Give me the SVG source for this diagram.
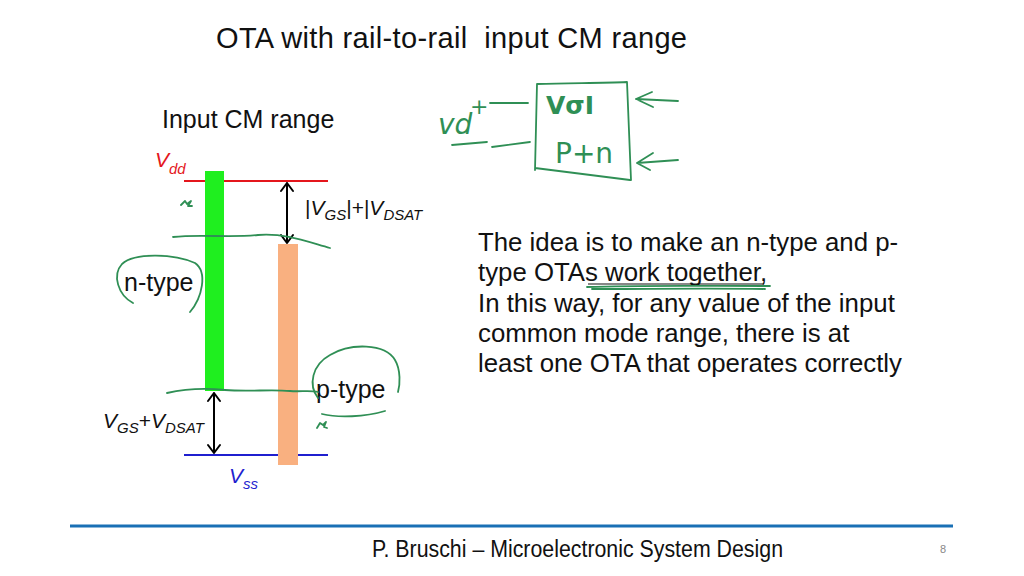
<svg xmlns="http://www.w3.org/2000/svg" width="1024" height="576" viewBox="0 0 1024 576">
<style>
text{font-family:"Liberation Sans",Arial,sans-serif;fill:#111}
.it{font-style:italic}
.hw{fill:none;stroke:#2f8f55;stroke-width:1.8;stroke-linecap:round;stroke-linejoin:round}
.hwt{fill:#2f8f55;font-family:"DejaVu Sans",sans-serif}
.arr{fill:none;stroke:#000;stroke-width:2;stroke-linecap:round;stroke-linejoin:round}
</style>
<rect width="1024" height="576" fill="#fff"/>
<text x="216" y="48" font-size="29" textLength="471" xml:space="preserve" style="white-space:pre">OTA with rail-to-rail  input CM range</text>
<text x="162" y="128" font-size="25">Input CM range</text>

<g id="vdd">
<line x1="184" y1="181" x2="328" y2="181" stroke="#e4161c" stroke-width="2"/>
<text x="155" y="167" font-size="21" class="it" style="fill:#e4161c">V<tspan font-size="15" dy="7">dd</tspan></text>
</g>
<g id="vss">
<line x1="184" y1="455" x2="328" y2="455" stroke="#1f1fcf" stroke-width="2"/>
<text x="229" y="483" font-size="21" class="it" style="fill:#1f1fcf">V<tspan font-size="15" dy="6">ss</tspan></text>
</g>
<g id="n-bar"><rect x="205" y="171" width="19" height="220" fill="#1fef1f"/></g>
<g id="p-bar"><rect x="278" y="244" width="20" height="221" fill="#f9b080"/></g>

<g id="connectors">
<path class="arr" d="M287,183 V243 M281,191 L287,183 L293,191 M281,235 L287,243 L293,235"/>
<path class="arr" d="M214,393 V453 M208,401 L214,393 L220,401 M208,445 L214,453 L220,445"/>
</g>

<g id="label-top">
<text x="305" y="215" font-size="21">|<tspan class="it">V</tspan><tspan class="it" font-size="15" dy="5">GS</tspan><tspan dy="-5">|+|</tspan><tspan class="it">V</tspan><tspan class="it" font-size="15" dy="5">DSAT</tspan></text>
</g>
<g id="label-bottom">
<text x="103" y="428" font-size="21"><tspan class="it">V</tspan><tspan class="it" font-size="15" dy="5">GS</tspan><tspan dy="-5">+</tspan><tspan class="it">V</tspan><tspan class="it" font-size="15" dy="5">DSAT</tspan></text>
</g>
<g id="n-type"><text x="124" y="291" font-size="25">n-type</text></g>
<g id="p-type"><text x="316" y="398" font-size="25">p-type</text></g>

<g id="paragraph">
<text x="478" y="251" font-size="25.8">The idea is to make an n-type and p-</text>
<text x="478" y="281" font-size="25.8">type OTAs work together,</text>
<line x1="588" y1="284" x2="764" y2="284" stroke="#111" stroke-width="1.2"/>
<text x="478" y="312" font-size="25.8">In this way, for any value of the input</text>
<text x="478" y="342" font-size="25.8">common mode range, there is at</text>
<text x="478" y="372" font-size="25.8">least one OTA that operates correctly</text>
</g>

<g id="handwriting">
<path class="hw" d="M173,237 C200,234 230,238 258,235 C285,233 305,241 330,248"/>
<path class="hw" d="M167,393 C185,389 205,388 225,390 C250,392 270,389 290,391 C300,392 310,390 318,392"/>
<path class="hw" d="M133,303 C118,295 112,275 122,264 C135,252 175,254 195,263 C208,272 202,298 190,312"/>
<path class="hw" d="M318,398 C308,385 312,365 330,355 C350,343 385,343 395,360 C401,370 400,385 398,392 M385,411 C365,417 338,418 322,414"/>
<path class="hw" d="M181,205 l4,-4 l2,3 l4,-3 l-3,5 l4,0 M317,428 l3,-5 l3,2 l3,-3 l-2,5 l3,1"/>
<path class="hw" d="M587,287 C640,285 700,286 770,286 M592,289 C650,289 710,288 765,289" stroke-width="2"/>
<path class="hw" d="M537,84 C570,83 600,83 627,82 L631,180 M537,84 L535,170 M535,168 L630,180"/>
<path class="hw" d="M490,103 L528,103 M492,147 L530,142 M452,145 L487,142"/>
<path class="hw" d="M678,101 L636,99 M652,92 L636,99 L653,107 M678,160 L637,163 M653,153 L637,163 L650,170"/>
<text class="hwt" x="438" y="134" font-size="28" font-style="italic">vd</text>
<text class="hwt" x="470" y="114" font-size="22">+</text>
<text class="hwt" x="546" y="114" font-size="25" font-weight="bold">VσI</text>
<text class="hwt" x="555" y="163" font-size="28">P+n</text>
</g>

<g id="footer">
<line x1="70" y1="526" x2="953" y2="526" stroke="#1a70b5" stroke-width="3"/>
<text x="372" y="557" font-size="23" textLength="411" lengthAdjust="spacingAndGlyphs">P. Bruschi – Microelectronic System Design</text>
<text x="940" y="553" font-size="11" style="fill:#888">8</text>
</g>
</svg>
